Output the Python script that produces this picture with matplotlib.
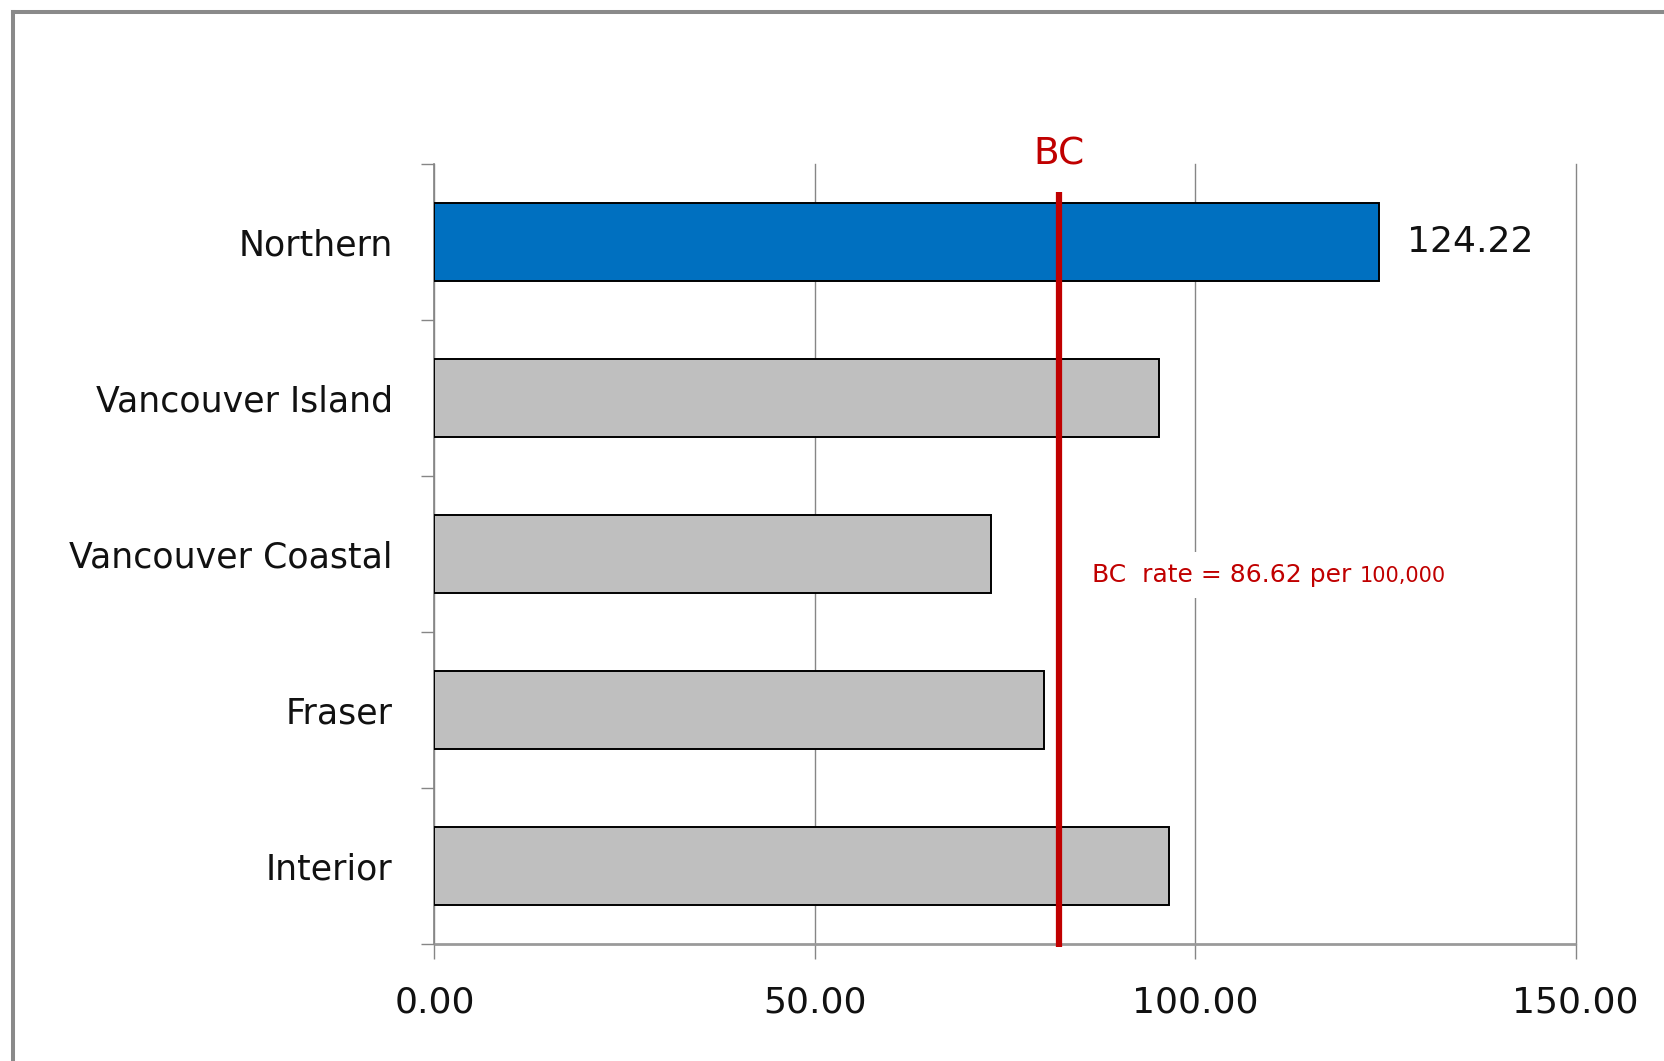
import matplotlib
matplotlib.use("Agg")
import matplotlib.pyplot as plt
from matplotlib.lines import Line2D
import numpy as np

# -------------------------
# Data
# -------------------------
regions = ["Northern", "Vancouver Island", "Vancouver Coastal", "Fraser", "Interior"]
rates = [124.22, 95.2, 73.1, 80.1, 96.6]
highlight = "Northern"
bc_line_x = 82.1
bc_label = "BC  rate = 86.62 per "
bc_label_small = "100,000"
x_ticks = [0, 50, 100, 150]

BLUE = "#0070C0"
GREY_BAR = "#BFBFBF"
RED = "#C00000"
AXIS_GREY = "#868686"

plt.rcParams["font.family"] = ["DejaVu Sans"]

W, H = 1664, 1061
fig = plt.figure(figsize=(W / 100, H / 100), dpi=100)
ax = fig.add_axes([434.5 / W, (H - 944) / H, 1141 / W, 780 / H])

y = np.arange(len(regions))
colors = [BLUE if r == highlight else GREY_BAR for r in regions]
ax.barh(y, rates, height=0.5, color=colors, edgecolor="black",
        linewidth=1.4, zorder=3)

ax.set_xlim(0, 150)
ax.set_ylim(len(regions) - 0.5, -0.5)

# gridlines
ax.set_xticks(x_ticks)
ax.set_xticklabels([f"{v:.2f}" for v in x_ticks])
ax.xaxis.grid(True, color=AXIS_GREY, linewidth=1.0, zorder=0)
ax.set_axisbelow(True)
for gl in ax.get_xgridlines():
    gl.set_clip_on(False)
ax.tick_params(axis="x", length=10.8, width=1.0, color=AXIS_GREY,
               labelsize=26, pad=19, labelcolor="#111111")

ax.set_yticks(y)
ax.set_yticklabels(regions)
ax.set_yticks(np.arange(len(regions) + 1) - 0.5, minor=True)
ax.tick_params(axis="y", which="major", length=0, labelsize=25, pad=30,
               labelcolor="#111111")
ax.tick_params(axis="y", which="minor", length=9.4, width=1.0,
               color=AXIS_GREY)

for side in ["top", "right"]:
    ax.spines[side].set_visible(False)
ax.spines["left"].set_color(AXIS_GREY)
ax.spines["left"].set_linewidth(1.2)
ax.spines["bottom"].set_color("#9a9a9a")
ax.spines["bottom"].set_linewidth(2.0)
ax.spines["bottom"].set_capstyle("butt")

# value label for highlighted bar
i_hl = regions.index(highlight)
ax.text(rates[i_hl] + 3.6, y[i_hl], f"{rates[i_hl]:.2f}", fontsize=26,
        va="center", ha="left", color="#111111", zorder=5)

# BC reference line
ax.plot([bc_line_x, bc_line_x], [-0.32, 4.52], color=RED, linewidth=4.5,
        solid_capstyle="butt", zorder=4, clip_on=False)
ax.text(bc_line_x, 1.0128, "BC", transform=ax.get_xaxis_transform(),
        color=RED, fontsize=27, ha="center", va="center", clip_on=False)

t1 = ax.text(86.5, 2.178, bc_label, color=RED, fontsize=18, ha="left",
             va="baseline", zorder=5,
             bbox=dict(facecolor="white", edgecolor="none", pad=8))
fig.canvas.draw()
bb = t1.get_window_extent(renderer=fig.canvas.get_renderer())
x_end = ax.transData.inverted().transform((bb.x1, bb.y0))[0]
ax.text(x_end, 2.178, bc_label_small, color=RED, fontsize=15, ha="left",
        va="baseline", zorder=5)

# outer chart frame (top and left edges visible)
fig.add_artist(Line2D([13 / W, 13 / W], [0, 1 - 12 / H], color="#8a8a8a",
                      linewidth=2.9, transform=fig.transFigure))
fig.add_artist(Line2D([13 / W, 1], [1 - 12 / H, 1 - 12 / H], color="#8a8a8a",
                      linewidth=2.9, transform=fig.transFigure))

fig.savefig("out.png", dpi=100, facecolor="white")
